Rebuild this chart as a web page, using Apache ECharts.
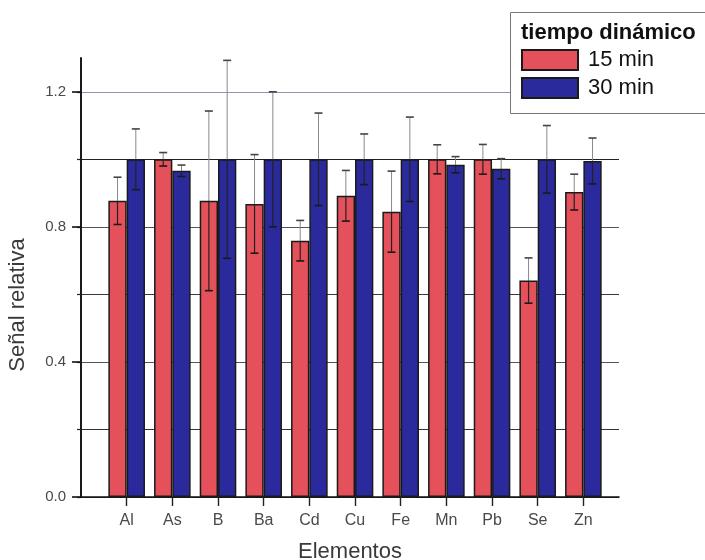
<!DOCTYPE html>
<html>
<head>
<meta charset="utf-8">
<script src="https://cdn.jsdelivr.net/npm/echarts@6/dist/echarts.min.js"></script>
<style>
html,body{margin:0;padding:0;background:#fff;}
#c{width:705px;height:560px;}
</style>
</head>
<body>
<div id="c"></div>
<script>
const categories = ['Al','As','B','Ba','Cd','Cu','Fe','Mn','Pb','Se','Zn'];
const val15 = [0.877, 1.0, 0.877, 0.868, 0.759, 0.892, 0.845, 1.0, 1.0, 0.641, 0.903];
const err15 = [0.070, 0.020, 0.266, 0.146, 0.060, 0.075, 0.120, 0.043, 0.044, 0.067, 0.053];
const val30 = [1.0, 0.966, 1.0, 1.0, 1.0, 1.0, 1.0, 0.984, 0.972, 1.0, 0.995];
const err30 = [0.090, 0.017, 0.293, 0.200, 0.137, 0.075, 0.125, 0.024, 0.030, 0.100, 0.068];
const yMajorTicks = [0, 0.4, 0.8, 1.2];
const yAllTicks = [0, 0.2, 0.4, 0.6, 0.8, 1.0, 1.2];
const seriesNames = ['15 min', '30 min'];

const positions = categories.map((c, i) => i);
const BAR_W = 18.3;
const RED = '#e4515b';
const BLUE = '#2a2a9c';

const chart = echarts.init(document.getElementById('c'), null, {renderer: 'canvas'});

function errRender(side) {
  return function (params, api) {
    const x = api.value(0), v = api.value(1), e = api.value(2);
    const pv = api.coord([x, v]);
    const ph = api.coord([x, v + e]);
    const pl = api.coord([x, v - e]);
    const cx = pv[0] + side * BAR_W / 2;
    const cap = 4;
    return {
      type: 'group',
      children: [
        {type: 'line', shape: {x1: cx, y1: pv[1], x2: cx, y2: ph[1]}, style: {stroke: '#8a8a8a', lineWidth: 1}},
        {type: 'line', shape: {x1: cx, y1: pl[1], x2: cx, y2: pv[1]}, style: {stroke: '#222', lineWidth: 1.2}},
        {type: 'line', shape: {x1: cx - cap, y1: ph[1], x2: cx + cap, y2: ph[1]}, style: {stroke: '#444', lineWidth: 1.6}},
        {type: 'line', shape: {x1: cx - cap, y1: pl[1], x2: cx + cap, y2: pl[1]}, style: {stroke: '#1a1a1a', lineWidth: 1.6}}
      ]
    };
  };
}

const option = {
  backgroundColor: '#fff',
  animation: false,
  textStyle: {fontFamily: 'Liberation Sans, Arial, sans-serif'},
  grid: {left: 81, right: 86, top: 58, bottom: 63, containLabel: false, outerBoundsMode: 'none'},
  xAxis: {
    type: 'value',
    min: -1,
    max: 10.78,
    name: 'Elementos',
    nameLocation: 'middle',
    nameGap: 44,
    nameTextStyle: {fontSize: 22, color: '#3a3a3a', fontFamily: 'Liberation Sans, Arial, sans-serif'},
    axisLine: {show: true, onZero: false, lineStyle: {color: '#111', width: 1.6}},
    axisTick: {show: true, customValues: positions, length: 9, inside: false, lineStyle: {color: '#222', width: 1.4}},
    axisLabel: {
      show: true, customValues: positions, margin: 16, fontSize: 16, color: '#4a4a4a',
      formatter: function (v) { return categories[Math.round(v)] || ''; }
    },
    splitLine: {show: false}
  },
  yAxis: [
    {
      type: 'value', min: 0, max: 1.3, interval: 0.2, position: 'left',
      axisLine: {show: true, onZero: false, lineStyle: {color: '#111', width: 1.6}},
      axisTick: {show: true, customValues: yAllTicks, length: 4, lineStyle: {color: '#222', width: 1.2}},
      axisLabel: {show: false},
      splitLine: {show: true, lineStyle: {color: ['#333', '#333', '#555', '#3a3a3a', '#555', '#222', '#8d99aa'], width: 1}}
    },
    {
      type: 'value', min: 0, max: 1.3, position: 'left', offset: 0,
      axisLine: {show: true, onZero: false, lineStyle: {color: '#111', width: 1.6}},
      axisTick: {show: true, customValues: yMajorTicks, length: 9, lineStyle: {color: '#111', width: 1.6}},
      axisLabel: {
        show: true, customValues: yMajorTicks, margin: 15, fontSize: 15, color: '#4a4a4a',
        formatter: function (v) { return v.toFixed(1); }
      },
      splitLine: {show: false}
    }
  ],
  legend: {
    show: true,
    orient: 'vertical',
    left: 521,
    top: 49,
    padding: 0,
    itemWidth: 56,
    itemHeight: 20,
    itemGap: 6,
    icon: 'rect',
    z: 12,
    data: seriesNames,
    textStyle: {fontSize: 22, lineHeight: 22, color: '#111', padding: [0, 0, 0, 5], fontFamily: 'Liberation Sans, Arial, sans-serif'}
  },
  graphic: [
    {type: 'rect', z: 10, shape: {x: 510.5, y: 12.5, width: 210, height: 101}, style: {fill: '#fff', stroke: '#777', lineWidth: 1}},
    {type: 'text', z: 12, x: 521, y: 33, style: {text: 'tiempo dinámico', fontSize: 22, fontWeight: 'bold', fill: '#111', textVerticalAlign: 'middle', fontFamily: 'Liberation Sans, Arial, sans-serif'}},
    {type: 'text', z: 12, x: 18, y: 305, rotation: Math.PI / 2, style: {text: 'Señal relativa', fontSize: 22, fill: '#3a3a3a', textAlign: 'center', textVerticalAlign: 'middle', fontFamily: 'Liberation Sans, Arial, sans-serif'}}
  ],
  series: [
    {
      name: seriesNames[0], type: 'bar', barWidth: BAR_W, barGap: '0%', z: 2,
      itemStyle: {color: RED, borderColor: '#1a1a1a', borderWidth: 1.5},
      data: positions.map((p, i) => [p, val15[i]])
    },
    {
      name: seriesNames[1], type: 'bar', barWidth: BAR_W, barGap: '0%', z: 2,
      itemStyle: {color: BLUE, borderColor: '#1a1a1a', borderWidth: 1.5},
      data: positions.map((p, i) => [p, val30[i]])
    },
    {
      type: 'custom', z: 4, renderItem: errRender(-1), encode: {x: 0, y: 1},
      data: positions.map((p, i) => [p, val15[i], err15[i]])
    },
    {
      type: 'custom', z: 4, renderItem: errRender(1), encode: {x: 0, y: 1},
      data: positions.map((p, i) => [p, val30[i], err30[i]])
    }
  ]
};
chart.setOption(option);
</script>
</body>
</html>
